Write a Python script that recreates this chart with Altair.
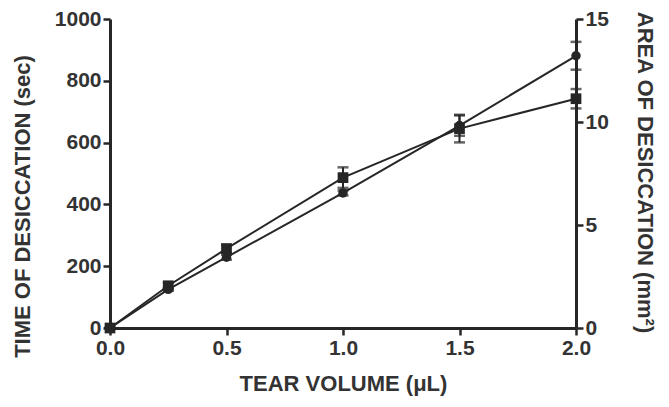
import altair as alt
import pandas as pd

# Tear volume (µL)
volume = [0.0, 0.25, 0.5, 1.0, 1.5, 2.0]
# Time of desiccation (sec) - circles, left axis
time_sec = [0, 125, 229, 437, 655, 881]
time_err = [0, 5, 8, 8, 33, 45]
# Area of desiccation (mm^2) - squares, right axis
area_mm2 = [0, 2.05, 3.85, 7.3, 9.68, 11.13]
area_err = [0, 0.15, 0.2, 0.5, 0.67, 0.47]

df = pd.DataFrame({
    "volume": volume,
    "time": time_sec,
    "time_lo": [v - e for v, e in zip(time_sec, time_err)],
    "time_hi": [v + e for v, e in zip(time_sec, time_err)],
    "area": area_mm2,
    "area_lo": [v - e for v, e in zip(area_mm2, area_err)],
    "area_hi": [v + e for v, e in zip(area_mm2, area_err)],
})

FONT = "Liberation Sans"
INK = "#262626"
TXT = "#333333"

x_enc = alt.X(
    "volume:Q",
    scale=alt.Scale(domain=[0, 2], nice=False, zero=False),
    axis=alt.Axis(values=[0, 0.5, 1.0, 1.5, 2.0], format=".1f", labelFlush=False,
                  title="TEAR VOLUME (μL)", titlePadding=15),
)

base = alt.Chart(df)

# Left (time) layer
y_left = alt.Y("time:Q", scale=alt.Scale(domain=[0, 1000], nice=False),
               axis=alt.Axis(values=[0, 200, 400, 600, 800, 1000], format="d",
                             labelFlush=False,
                             title="TIME OF DESICCATION  (sec)",
                             titleX=-76, titleY=187))
left_line = base.mark_line(color=INK, strokeWidth=2).encode(x=x_enc, y=y_left)
left_pts = base.mark_point(shape="circle", filled=True, size=90, color=INK, opacity=1).encode(x=x_enc, y=y_left)
left_bar = base.mark_rule(color=INK, strokeWidth=2).encode(
    x=x_enc, y=alt.Y("time_lo:Q"), y2="time_hi:Q")
left_cap_hi = base.mark_tick(color=INK, orient="horizontal", size=11, thickness=2.5).encode(
    x=x_enc, y=alt.Y("time_hi:Q"))
left_cap_lo = base.mark_tick(color=INK, orient="horizontal", size=11, thickness=2.5).encode(
    x=x_enc, y=alt.Y("time_lo:Q"))
left_layer = alt.layer(left_line, left_bar, left_cap_hi, left_cap_lo, left_pts)

# Right (area) layer
y_right = alt.Y("area:Q", scale=alt.Scale(domain=[0, 15], nice=False),
                axis=alt.Axis(orient="right", values=[0, 5, 10, 15], labelFlush=False,
                              title="AREA OF DESICCATION (mm²)",
                              titleX=56, titleY=153))
right_line = base.mark_line(color=INK, strokeWidth=2).encode(x=x_enc, y=y_right)
right_pts = base.mark_point(shape="square", filled=True, size=115, color=INK, opacity=1).encode(x=x_enc, y=y_right)
right_bar = base.mark_rule(color=INK, strokeWidth=2).encode(
    x=x_enc, y=alt.Y("area_lo:Q"), y2="area_hi:Q")
right_cap_hi = base.mark_tick(color=INK, orient="horizontal", size=11, thickness=2.5).encode(
    x=x_enc, y=alt.Y("area_hi:Q"))
right_cap_lo = base.mark_tick(color=INK, orient="horizontal", size=11, thickness=2.5).encode(
    x=x_enc, y=alt.Y("area_lo:Q"))
right_layer = alt.layer(right_line, right_bar, right_cap_hi, right_cap_lo, right_pts)

chart = alt.layer(left_layer, right_layer).resolve_scale(y="independent").properties(
    width=466, height=309,
    autosize=alt.AutoSizeParams(type="none"),
    padding={"left": 102, "top": 11, "right": 85, "bottom": 71},
    background="white",
).configure_view(stroke=None).configure_axis(
    grid=False,
    domainColor=INK, domainWidth=3,
    tickColor=INK, tickWidth=2.5, tickSize=7,
    labelFont=FONT, labelFontSize=21, labelFontWeight="bold", labelColor=TXT,
    labelPadding=2,
    titleFont=FONT, titleFontSize=22, titleFontWeight="bold", titleColor=TXT,
)

chart.save("out.html", embed_options={"renderer": "svg", "actions": False})
